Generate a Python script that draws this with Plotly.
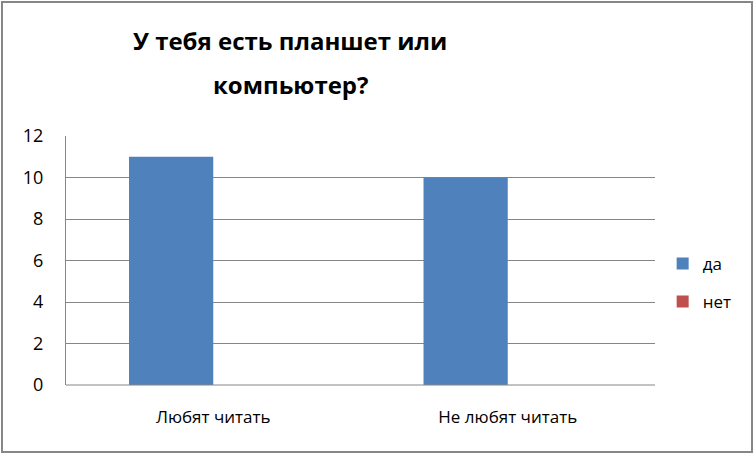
import plotly.graph_objects as go

categories = ["Любят читать", "Не любят читать"]
series_names = ["да", "нет"]
values_da = [11, 10]
values_net = [0, 0]
colors = ["#4F81BD", "#C0504D"]
y_ticks = [0, 2, 4, 6, 8, 10, 12]
title_lines = ["У тебя есть планшет или", "компьютер?"]

FONT = "Open Sans"

fig = go.Figure()
for name, vals, col in zip(series_names, [values_da, values_net], colors):
    fig.add_trace(go.Bar(
        x=categories, y=vals, name=name, marker=dict(color=col, line=dict(width=0)),
        legendgroup=name,
    ))

fig.update_layout(
    width=755, height=455,
    margin=dict(l=66, r=100, t=136, b=70),
    paper_bgcolor="white", plot_bgcolor="white",
    barmode="group", bargap=0.428, bargroupgap=0,
    font=dict(family=FONT, color="#000000"),
    showlegend=True,
    legend=dict(x=1.013, xanchor="left", y=0.41, yanchor="middle",
                font=dict(family=FONT, size=17, color="#000000"),
                tracegroupgap=13, itemclick=False, bgcolor="rgba(0,0,0,0)"),
    xaxis=dict(
        showgrid=False, showline=False, zeroline=False,
        tickfont=dict(family=FONT, size=17, color="#000000"),
        ticks="", ticklabelstandoff=20,
    ),
    yaxis=dict(
        range=[0, 12], tickvals=y_ticks, showgrid=True, gridcolor="#868686", gridwidth=1,
        showline=True, linecolor="#868686", linewidth=1, zeroline=False,
        tickfont=dict(family=FONT, size=18, color="#000000"),
        ticks="", ticklabelstandoff=18,
    ),
)

# baseline axis line
fig.add_shape(type="line", xref="paper", yref="paper", x0=0, x1=1, y0=0, y1=0,
              line=dict(color="#868686", width=1))

# title as two lines
fig.add_annotation(text="<b>" + title_lines[0] + "</b>", xref="paper", yref="paper",
                   x=(290 - 66) / 589, y=(385 - 40) / 249, xanchor="center", yanchor="middle",
                   showarrow=False, font=dict(family=FONT, size=24, color="#000000"))
fig.add_annotation(text="<b>" + title_lines[1] + "</b>", xref="paper", yref="paper",
                   x=(291 - 66) / 589, y=(385 - 84) / 249, xanchor="center", yanchor="middle",
                   showarrow=False, font=dict(family=FONT, size=24, color="#000000"))

# outer chart border
fig.add_shape(type="rect", xref="paper", yref="paper",
              x0=(2 - 66) / 589, x1=(752 - 66) / 589, y0=(385 - 452) / 249, y1=(385 - 2) / 249,
              line=dict(color="#868686", width=2), fillcolor="rgba(0,0,0,0)", layer="above")

fig.write_html("out.html", config={"displayModeBar": False},
               post_script="document.body.style.margin='0';")
